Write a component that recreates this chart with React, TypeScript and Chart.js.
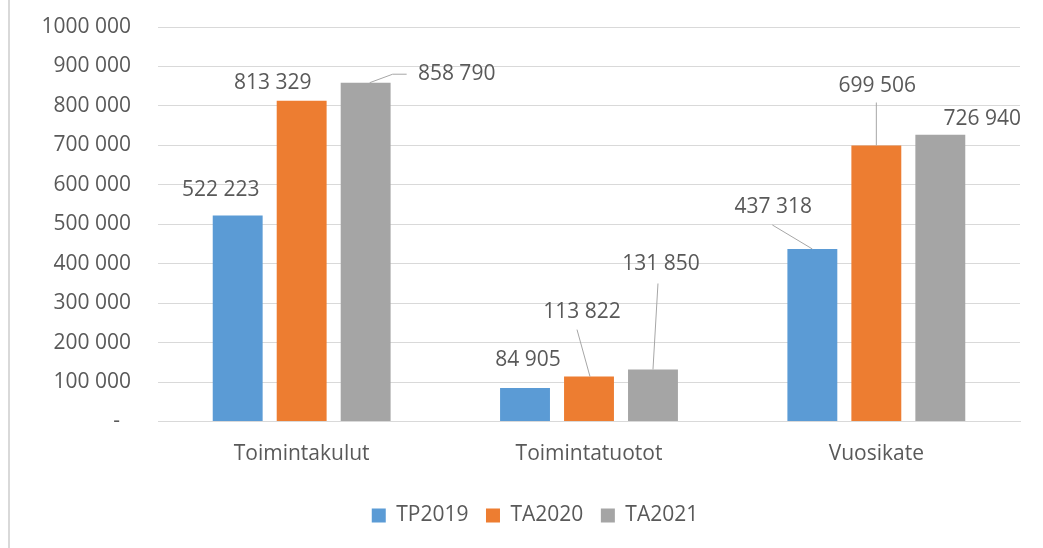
import React, { useEffect, useRef } from "react";
import { Chart, registerables } from "chart.js";

Chart.register(...registerables);

const categories = ["Toimintakulut", "Toimintatuotot", "Vuosikate"];
const seriesNames = ["TP2019", "TA2020", "TA2021"];
const tp2019 = [522223, 84905, 437318];
const ta2020 = [813329, 113822, 699506];
const ta2021 = [858790, 131850, 726940];
const seriesColors = ["#5B9BD5", "#ED7D31", "#A5A5A5"];
const yMax = 1000000;
const yStep = 100000;

// label placement (relative to bar top-centre), per series then per category
const labelOffsets: number[][][] = [
  [[-17, -25], [3, -28], [-39, -42]],
  [[-29, -18], [-7, -65], [1, -60]],
  [[91, -9], [8, -105], [42, -16]],
];
const leaderLines: (number[][] | null)[][] = [
  [null, null, [[-40, -24], [0, 0]]],
  [null, [[-12, -47], [1, 0]], [[0, -43], [0, 0]]],
  [[[4, 0], [27, -8.5], [41, -8.5]], [[5, -86], [0, 0]], null],
];

const FONT = '"Open Sans", "DejaVu Sans", sans-serif';
const TEXT = "#595959";

function fmt(v: number): string {
  if (v === 0) return "-  ";
  const hi = Math.floor(v / 1000);
  const lo = String(v % 1000).padStart(3, "0");
  return hi > 0 ? `${hi} ${lo}` : String(v);
}

const labelPlugin = {
  id: "barLabels",
  afterLayout(chart: any) {
    // centre the legend the way the original does (slightly right of the canvas centre)
    const l = chart.legend;
    if (l) {
      l.left += 25;
      l.right += 25;
    }
  },
  afterDatasetsDraw(chart: any) {
    const ctx = chart.ctx;
    ctx.save();
    ctx.font = `21px ${FONT}`;
    ctx.fillStyle = TEXT;
    ctx.strokeStyle = "#A6A6A6";
    ctx.lineWidth = 1;
    ctx.textAlign = "center";
    ctx.textBaseline = "middle";
    chart.data.datasets.forEach((ds: any, i: number) => {
      const meta = chart.getDatasetMeta(i);
      meta.data.forEach((bar: any, j: number) => {
        const { x, y } = bar.getProps(["x", "y"], true);
        const leader = leaderLines[i][j];
        if (leader) {
          ctx.beginPath();
          leader.forEach(([lx, ly], k) => {
            if (k === 0) ctx.moveTo(x + lx, y + ly);
            else ctx.lineTo(x + lx, y + ly);
          });
          ctx.stroke();
        }
        const [dx, dy] = labelOffsets[i][j];
        ctx.fillText(fmt(ds.data[j]), x + dx, y + dy);
      });
    });
    ctx.restore();
  },
};

export default function App() {
  const ref = useRef<HTMLCanvasElement | null>(null);
  useEffect(() => {
    if (!ref.current) return;
    const values = [tp2019, ta2020, ta2021];
    const chart = new Chart(ref.current, {
      type: "bar",
      data: {
        labels: categories,
        datasets: seriesNames.map((name, i) => ({
          label: name,
          data: values[i],
          backgroundColor: seriesColors[i],
          borderWidth: 0,
          categoryPercentage: 0.668,
          barPercentage: 0.78,
        })),
      },
      options: {
        animation: false,
        responsive: true,
        maintainAspectRatio: false,
        layout: { padding: { left: 0, right: 23, top: 27, bottom: 12 } },
        plugins: {
          tooltip: { enabled: false },
          title: { display: false },
          legend: {
            position: "bottom",
            labels: {
              boxWidth: 14,
              boxHeight: 14,
              padding: 17.5,
              color: TEXT,
              font: { family: FONT, size: 21 },
            },
          },
        },
        scales: {
          x: {
            grid: { display: false, drawTicks: false },
            border: { display: true, color: "#D9D9D9", width: 1 },
            ticks: { color: TEXT, font: { family: FONT, size: 21 }, padding: 20 },
            afterFit: (s: any) => {
              s.height = 66;
            },
          },
          y: {
            min: 0,
            max: yMax,
            grid: { color: "#D9D9D9", drawTicks: false, lineWidth: 1 },
            border: { display: false },
            ticks: {
              stepSize: yStep,
              color: TEXT,
              font: { family: FONT, size: 21 },
              padding: 27,
              callback: (v: any) => fmt(Number(v)),
            },
            afterFit: (s: any) => {
              s.width = 158;
              s.paddingTop = 0;
              s.paddingBottom = 0;
            },
          },
        },
      },
      plugins: [labelPlugin],
    });
    return () => chart.destroy();
  }, []);

  return (
    <div
      style={{
        position: "fixed",
        left: 0,
        top: 0,
        width: 1043,
        height: 548,
        background: "#ffffff",
      }}
    >
      <div
        style={{
          position: "absolute",
          left: 8,
          top: 0,
          width: 2,
          height: 548,
          background: "#D9D9D9",
        }}
      />
      <div style={{ position: "absolute", left: 0, top: 0, width: 1043, height: 548 }}>
        <canvas ref={ref} />
      </div>
    </div>
  );
}
